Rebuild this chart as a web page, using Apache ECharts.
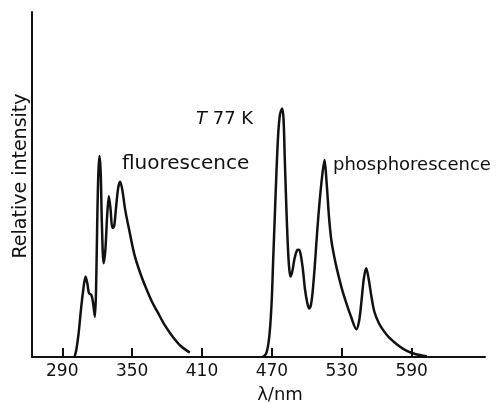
<!DOCTYPE html>
<html>
<head>
<meta charset="utf-8">
<script src="https://cdn.jsdelivr.net/npm/echarts@6/dist/echarts.min.js"></script>
<style>
  html, body { margin: 0; padding: 0; background: #fff; }
  #chart { width: 503px; height: 404px; }
</style>
</head>
<body>
<div id="chart"></div>
<script>
// wavelengths (nm) and relative intensity
var fluoWavelength = [300.5, 302, 304, 306, 308, 310, 311.5, 313, 315, 316.5, 318, 319, 320, 321, 322, 323, 324, 325.5, 327, 328.5, 330, 331.5, 333, 334.5, 336, 338, 339.7, 341.5, 344, 348, 352, 357, 362, 367, 372, 378, 385, 392, 399.5];
var fluoIntensity = [0, 2, 7, 14, 20, 24, 22, 19, 18.5, 16, 12, 20, 40, 55, 60, 55, 40, 28, 32, 42, 48, 44, 38.5, 39, 44, 50.5, 52.3, 50, 44, 37, 30.5, 25, 20.5, 16.5, 13.3, 9.5, 6, 3.2, 1.3];

var phosWavelength = [462, 465, 467, 468.5, 470, 471, 472.5, 474, 475.5, 477, 478.8, 480, 481, 482, 483, 484, 485, 486, 487.5, 489.5, 491.5, 493, 494.5, 496.5, 498.5, 500.5, 502, 503.5, 505, 507, 509, 511, 513, 515.2, 517, 519, 521, 523.5, 526, 530, 534, 538, 542.5, 545, 547, 549, 551, 553, 555.5, 558, 562, 566, 571, 578, 585, 593, 603];
var phosIntensity = [0, 1, 4, 9, 18, 28, 42, 56, 67, 72.5, 74.2, 71, 60, 49, 39, 31, 26, 24, 25.5, 29.5, 31.8, 32, 31, 26.5, 20, 16, 14.5, 15.5, 19.5, 28, 38, 46.5, 53.5, 58.8, 52, 42, 35, 30, 26, 20.5, 16, 12, 8.3, 11, 17, 23.5, 26.5, 23.5, 18, 13.5, 10, 7.8, 5.7, 3.6, 2, 0.9, 0.2];

var xTicks = [290, 350, 410, 470, 530, 590];

function pairs(xs, ys) {
  return xs.map(function (x, i) {
    return [x, ys[i]];
  });
}

var chart = echarts.init(document.getElementById("chart"));
var font = "DejaVu Sans";
var ink = "#111";

var option = {
  animation: false,
  grid: {
    left: 32,
    right: 18,
    top: 12,
    bottom: 47
  },
  xAxis: {
    type: "value",
    min: 264,
    max: 653,
    axisLine: { show: true, lineStyle: { color: ink, width: 2 } },
    axisTick: {
      show: true,
      inside: true,
      length: 9,
      customValues: xTicks,
      lineStyle: { color: ink, width: 2 }
    },
    axisLabel: {
      customValues: xTicks,
      margin: 6,
      color: ink,
      fontFamily: font,
      fontSize: 17
    },
    splitLine: { show: false }
  },
  yAxis: {
    type: "value",
    min: 0,
    max: 103,
    axisLine: { show: true, lineStyle: { color: ink, width: 2 } },
    axisTick: { show: false },
    axisLabel: { show: false },
    splitLine: { show: false }
  },
  series: [
    {
      name: "fluorescence",
      type: "line",
      data: pairs(fluoWavelength, fluoIntensity),
      smooth: 0.3,
      symbol: "none",
      lineStyle: { color: ink, width: 2.5 }
    },
    {
      name: "phosphorescence",
      type: "line",
      data: pairs(phosWavelength, phosIntensity),
      smooth: 0.3,
      symbol: "none",
      lineStyle: { color: ink, width: 2.5 }
    }
  ],
  graphic: [
    {
      type: "text",
      rotation: Math.PI / 2,
      x: 21,
      y: 176,
      style: {
        text: "Relative intensity",
        fill: ink,
        font: "19px " + font,
        align: "center",
        verticalAlign: "middle"
      }
    },
    {
      type: "text",
      x: 122,
      y: 174,
      style: {
        text: "fluorescence",
        fill: ink,
        font: "20px " + font,
        verticalAlign: "bottom"
      }
    },
    {
      type: "text",
      x: 333,
      y: 174,
      style: {
        text: "phosphorescence",
        fill: ink,
        font: "18px " + font,
        verticalAlign: "bottom"
      }
    },
    {
      type: "text",
      x: 196,
      y: 128,
      style: {
        text: "{i|T} 77 K",
        fill: ink,
        font: "18px " + font,
        verticalAlign: "bottom",
        rich: {
          i: { fontStyle: "italic", fontFamily: font, fontSize: 18, fill: ink }
        }
      }
    },
    {
      type: "text",
      x: 280,
      y: 386,
      style: {
        text: "λ/nm",
        fill: ink,
        font: "18px " + font,
        align: "center",
        verticalAlign: "top"
      }
    }
  ]
};

chart.setOption(option);
</script>
</body>
</html>
